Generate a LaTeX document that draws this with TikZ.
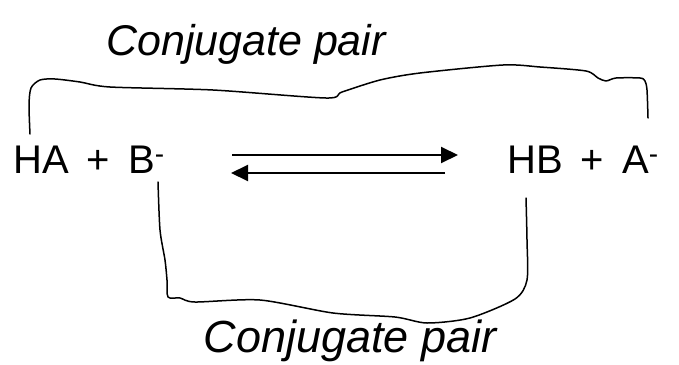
\documentclass[tikz,border=0pt]{standalone}
\usepackage{fontspec}
\setmainfont{Liberation Sans}
\usetikzlibrary{arrows.meta}
\newcommand{\gap}{\hspace{0.45em}}
\begin{document}
\begin{tikzpicture}[x=1pt,y=-1pt,
  formula/.style={inner sep=0pt,anchor=base west,font=\fontsize{40}{46}\selectfont},
  label/.style={inner sep=0pt,anchor=base,font=\itshape},
  eqarrow/.style={line width=2pt,-{Triangle[length=17pt,width=16pt]}},
  bracket/.style={line width=1.5pt,line join=round,line cap=round}]
\useasboundingbox (0,0) rectangle (679,364);

% species of the equilibrium
\node[formula] (left)  at (13,173)  {HA\gap+\gap B\textsuperscript{-}};
\node[formula] (right) at (507,173) {HB\gap+\gap A\textsuperscript{-}};

% forward and reverse arrows
\coordinate (fwdA) at (232,155);
\coordinate (fwdB) at (458,155);
\coordinate (revA) at (445,173);
\coordinate (revB) at (231,173);
\draw[eqarrow] (fwdA) -- (fwdB);
\draw[eqarrow] (revA) -- (revB);

% labels
\node[label,font=\fontsize{43}{50}\selectfont\itshape] (top) at (246,55)  {Conjugate pair};
\node[label,font=\fontsize{45}{52}\selectfont\itshape] (bot) at (350,352) {Conjugate pair};

% upper bracket: HA with A-
\draw[bracket] plot[smooth,tension=0.45] coordinates {
  (30,134) (29,105) (31,88) (40,80) (55,79) (80,82) (110,87) (213,90)
  (326,98) (342,92) (380,80) (420,73) (503,65) (540,67) (586,71)
  (598,78) (606,81) (616,78) (640,78) (645,81) (647,90) (648,118)};

% lower bracket: B- with HB
\draw[bracket] plot[smooth,tension=0.45] coordinates {
  (158,182) (160,230) (165,260) (167,280) (168,297) (180,298) (195,302)
  (260,300) (333,313) (395,317) (427,323) (470,318) (515,299) (527,280)
  (527,240) (526,198)};
\end{tikzpicture}
\end{document}
